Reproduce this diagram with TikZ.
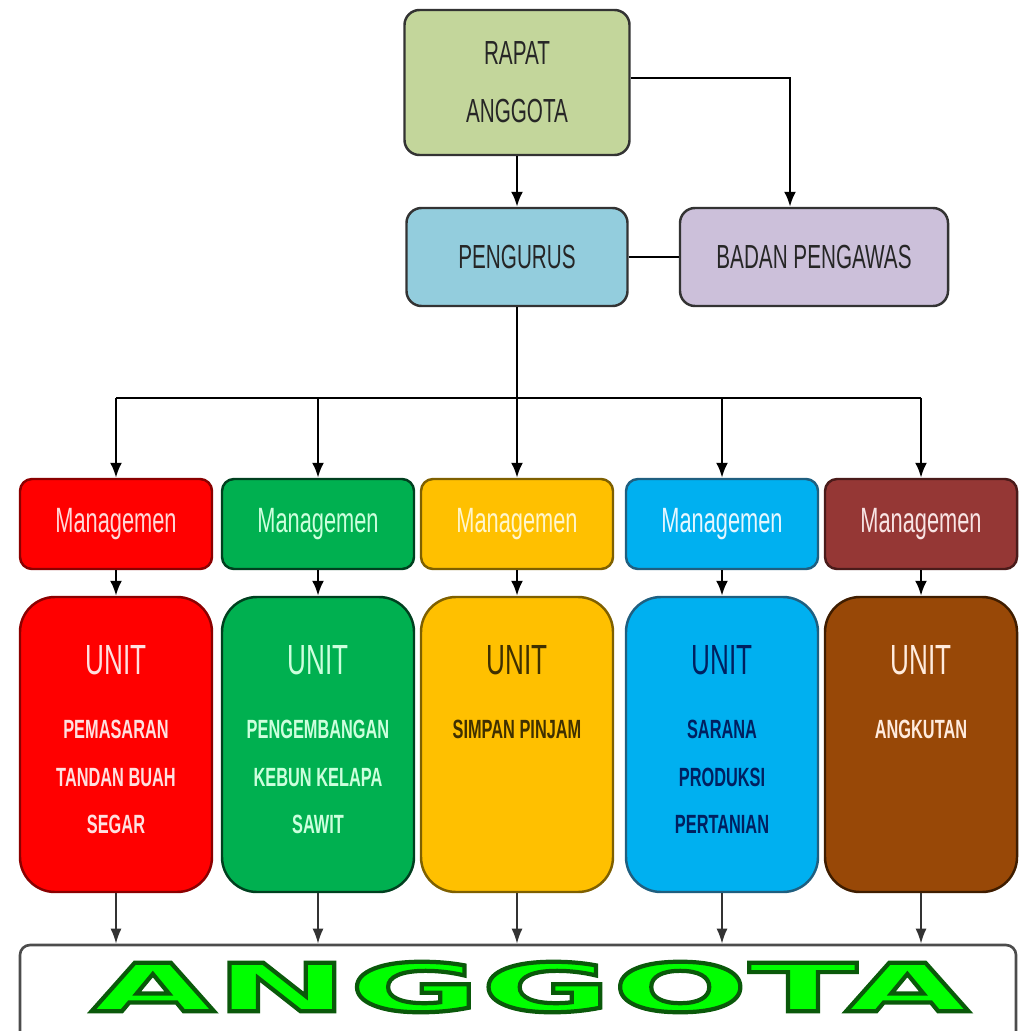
\documentclass[tikz,border=0pt]{standalone}
\usepackage{fontspec}
\setmainfont{Liberation Sans}[FakeStretch=0.62]
\newfontfamily\bigfont{DejaVu Sans}[FakeStretch=2.4]
\usetikzlibrary{arrows.meta,positioning,calc}

% green letters with a dark green outline (fill and stroke render mode)
\newcommand{\outlinetext}[1]{\special{pdf:code q 2 Tr 0.04 0.35 0.04 RG 2.4 w}#1\special{pdf:code Q}}

\definecolor{rapatfill}{HTML}{C3D69B}
\definecolor{pengfill}{HTML}{93CDDD}
\definecolor{badanfill}{HTML}{CCC0DA}
% managemen boxes
\definecolor{mgfill1}{HTML}{FF0000}\definecolor{mgline1}{HTML}{8B0000}\definecolor{mgtext1}{HTML}{FFD9D9}
\definecolor{mgfill2}{HTML}{00B050}\definecolor{mgline2}{HTML}{00401F}\definecolor{mgtext2}{HTML}{CCFFDD}
\definecolor{mgfill3}{HTML}{FFC000}\definecolor{mgline3}{HTML}{7F6000}\definecolor{mgtext3}{HTML}{FFF6CC}
\definecolor{mgfill4}{HTML}{00B0F0}\definecolor{mgline4}{HTML}{1F5F80}\definecolor{mgtext4}{HTML}{E6F7FF}
\definecolor{mgfill5}{HTML}{953735}\definecolor{mgline5}{HTML}{4A1B1A}\definecolor{mgtext5}{HTML}{F8E4E4}
% unit boxes
\definecolor{unitfill1}{HTML}{FF0000}\definecolor{unitline1}{HTML}{8B0000}\definecolor{unittext1}{HTML}{FFE0E0}
\definecolor{unitfill2}{HTML}{00B050}\definecolor{unitline2}{HTML}{00401F}\definecolor{unittext2}{HTML}{CCFFDD}
\definecolor{unitfill3}{HTML}{FFC000}\definecolor{unitline3}{HTML}{7F6000}\definecolor{unittext3}{HTML}{3F3000}
\definecolor{unitfill4}{HTML}{00B0F0}\definecolor{unitline4}{HTML}{1F5F80}\definecolor{unittext4}{HTML}{002060}
\definecolor{unitfill5}{HTML}{984807}\definecolor{unitline5}{HTML}{3F1D00}\definecolor{unittext5}{HTML}{FFEBDD}
\definecolor{ggreen}{HTML}{00FF00}

\begin{document}
\begin{tikzpicture}[x=0.2mm,y=-0.2mm,
    topbox/.style={draw=black!80,line width=1.4pt,rounded corners=3mm,text=black!85,
        align=center,font=\fontsize{19}{33}\selectfont},
    mgbox/.style={line width=1.4pt,rounded corners=2.4mm,minimum width=38.4mm,
        minimum height=18mm,font=\fontsize{20}{24}\selectfont},
    unitbox/.style={line width=1.4pt,rounded corners=7mm,minimum width=38.4mm,minimum height=59mm},
    unittitle/.style={inner sep=0pt,anchor=north,font=\fontsize{24}{28}\selectfont},
    unitsub/.style={inner sep=0pt,anchor=north,align=center,font=\bfseries\fontsize{15}{27}\selectfont},
    conn/.style={line width=1.4pt},
    arr/.style={conn,-{Latex[length=3mm,width=2.4mm]}},
    arrthin/.style={line width=1pt,draw=black!80,-{Latex[length=3mm,width=2.2mm]}},
]
\useasboundingbox (0,0) rectangle (1022,1031);
\clip (0,0) rectangle (1022,1031);

% top part
\node[topbox,fill=rapatfill,minimum width=45mm,minimum height=29mm] (rapat) at (517,82.5) {RAPAT\\ANGGOTA};
\node[topbox,fill=pengfill,minimum width=44.2mm,minimum height=19.6mm] (pengurus) at (517,257) {PENGURUS};
\node[topbox,fill=badanfill,minimum width=53.6mm,minimum height=19.6mm] (badan) at (814,257) {BADAN PENGAWAS};

\draw[arr] (rapat) -- (pengurus);
\draw[arr] ($(rapat.east)+(0,-4.5)$) -| ($(badan.north)+(-24,0)$);
\draw[conn] (pengurus.east) -- (badan.west);

\coordinate (bus) at (0,398);
\draw[conn] (pengurus.south) -- (bus -| pengurus.south);

% anggota
\node[draw=black!70,line width=1.5pt,rounded corners=2mm,minimum width=199.2mm,minimum height=20mm] (anggota) at (518,995) {};
\node[text=ggreen] (anggotatext) at (530,987) {\bigfont\bfseries\fontsize{38}{44}\selectfont\outlinetext{ANGGOTA}};

\foreach \i/\x/\sub in {1/116/{PEMASARAN\\TANDAN BUAH\\SEGAR},
                        2/318/{PENGEMBANGAN\\KEBUN KELAPA\\SAWIT},
                        3/517/{SIMPAN PINJAM},
                        4/722/{SARANA\\PRODUKSI\\PERTANIAN},
                        5/921/{ANGKUTAN}}
{
    \node[mgbox,fill=mgfill\i,draw=mgline\i,text=mgtext\i] (mg\i) at (\x,524) {Managemen};
    \node[unitbox,fill=unitfill\i,draw=unitline\i] (u\i) at (\x,744.5) {};
    \node[unittitle,text=unittext\i] (ut\i) at (\x,645) {UNIT};
    \node[unitsub,text=unittext\i] (us\i) at (\x,720) {\sub};

    \draw[arr] (bus -| mg\i.north) -- (mg\i.north);
    \draw[arr] (mg\i) -- (u\i);
    \draw[arrthin] (u\i) -- (u\i.south |- anggota.north);
}
\draw[conn] (bus -| mg1.north) -- (bus -| mg5.north);
\end{tikzpicture}
\end{document}
